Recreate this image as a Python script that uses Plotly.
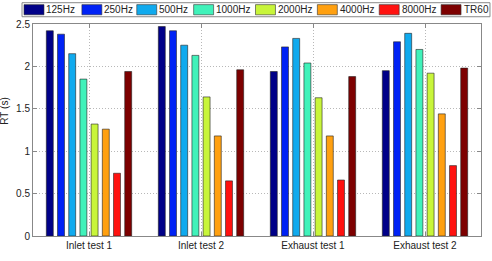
import plotly.graph_objects as go

categories = ["Inlet test 1", "Inlet test 2", "Exhaust test 1", "Exhaust test 2"]
series_names = ["125Hz", "250Hz", "500Hz", "1000Hz", "2000Hz", "4000Hz", "8000Hz", "TR60"]
v125 = [2.42, 2.47, 1.94, 1.95]
v250 = [2.38, 2.42, 2.23, 2.29]
v500 = [2.15, 2.25, 2.33, 2.39]
v1000 = [1.85, 2.13, 2.04, 2.20]
v2000 = [1.32, 1.64, 1.63, 1.92]
v4000 = [1.26, 1.18, 1.18, 1.44]
v8000 = [0.74, 0.65, 0.66, 0.83]
tr60 = [1.94, 1.96, 1.88, 1.98]
series_values = [v125, v250, v500, v1000, v2000, v4000, v8000, tr60]
colors = ["#000088", "#0022F5", "#10AAEE", "#40F2BA", "#C8F53A", "#FFA010", "#FF1210", "#7D0000"]
y_ticks = [0, 0.5, 1, 1.5, 2, 2.5]
y_ticklabels = ["0", "0.5", "1", "1.5", "2", "2.5"]

# layout (pixels) of figure
W, H = 492, 261
L, R, T, B = 33, 10, 24, 18
PW, PH = W - L - R, H - T - B

def px(x):
    return (x - L) / PW

def py(y):
    return (H - B - y) / PH

fig = go.Figure()
for name, vals, col in zip(series_names, series_values, colors):
    fig.add_trace(go.Bar(x=categories, y=vals, name=name, showlegend=False,
                         marker=dict(color=col, line=dict(color="#222222", width=0.6))))

font = "Liberation Sans, Arial, sans-serif"

# hand-built legend, MATLAB style (wide swatches inside a framed box)
swatch_left = [24, 82, 137, 194, 256, 318, 380, 442]
shapes = [dict(type="rect", xref="paper", yref="paper",
               x0=px(22), x1=px(491), y0=py(16.5), y1=py(2),
               line=dict(color="#888888", width=1), fillcolor="white", layer="above")]
annotations = []
for name, col, sx in zip(series_names, colors, swatch_left):
    shapes.append(dict(type="rect", xref="paper", yref="paper",
                       x0=px(sx), x1=px(sx + 20), y0=py(14.5), y1=py(4),
                       line=dict(color="#333333", width=0.6), fillcolor=col, layer="above"))
    annotations.append(dict(xref="paper", yref="paper", x=px(sx + 20.5), y=py(9.5),
                            text=name, showarrow=False, xanchor="left", yanchor="middle",
                            font=dict(size=10, color="#222222")))
annotations.append(dict(xref="paper", yref="paper", x=px(4.5), y=py(114),
                        text="RT (s)", showarrow=False, textangle=-90,
                        xanchor="center", yanchor="middle",
                        font=dict(size=10, color="#222222")))

fig.update_layout(
    width=W, height=H,
    margin=dict(l=L, r=R, t=T, b=B),
    paper_bgcolor="white", plot_bgcolor="white",
    barmode="group", bargap=0.2, bargroupgap=0.38,
    font=dict(family=font, size=10, color="#222222"),
    showlegend=False,
    shapes=shapes, annotations=annotations,
    xaxis=dict(showline=True, linecolor="#888888", linewidth=1, mirror="ticks",
               ticks="inside", ticklen=4, tickcolor="#888888",
               showgrid=True, gridcolor="#b8b8b8", griddash="1px,2px", gridwidth=1,
               range=[-0.5, 3.5], tickfont=dict(size=10)),
    yaxis=dict(showline=True, linecolor="#888888", linewidth=1, mirror="ticks",
               ticks="inside", ticklen=4, tickcolor="#888888",
               showgrid=True, gridcolor="#b8b8b8", griddash="1px,2px", gridwidth=1,
               range=[0, 2.5], tickvals=y_ticks, ticktext=y_ticklabels,
               zeroline=False, tickfont=dict(size=10)),
)
fig.write_html("out.html")
